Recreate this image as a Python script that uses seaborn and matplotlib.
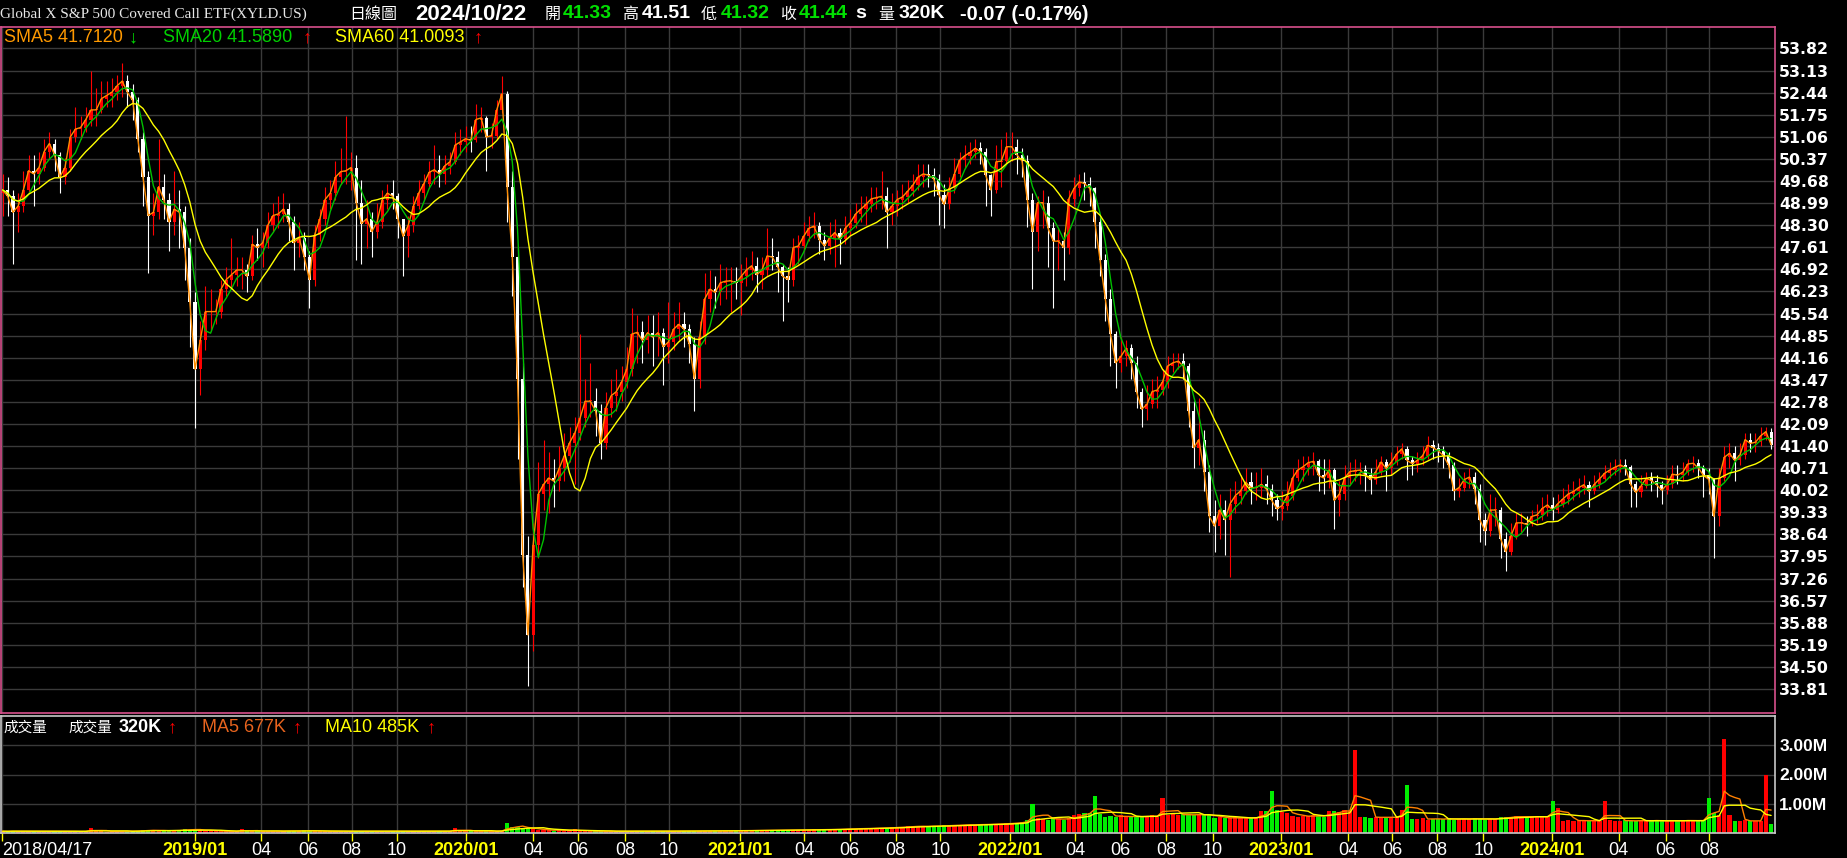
import numpy as np
import pandas as pd
import matplotlib
matplotlib.use("Agg")
import matplotlib.pyplot as plt
import seaborn as sns

# weekly candles (week 0 = week of 2018/04/16)
first_open = 49.3
close = [
    49.4, 49.2, 48.7, 48.9, 49.4, 50.0, 49.9, 50.1, 50.6, 50.85,
    50.5, 49.8, 50.1, 51.05, 51.3, 51.35, 51.6, 51.9, 51.9, 52.25,
    52.35, 52.45, 52.65, 52.8, 52.45, 52.2, 51.0, 49.8, 48.6, 48.7,
    49.5, 49.1, 48.4, 48.8, 48.7, 47.6, 45.9, 43.8, 44.7, 45.6,
    45.6, 45.6, 46.3, 46.6, 46.75, 46.9, 46.9, 46.7, 47.7, 47.6,
    47.75, 48.3, 48.6, 48.65, 48.8, 48.4, 47.75, 47.9, 47.3, 46.6,
    48.0, 48.5, 49.1, 49.3, 49.8, 49.97, 50.0, 50.1, 49.0, 48.35,
    48.5, 48.1, 48.4, 49.1, 49.3, 49.2, 48.5, 47.95, 48.3, 48.9,
    49.3, 49.6, 49.95, 50.03, 49.9, 50.15, 50.28, 50.8, 50.9, 51.0,
    50.95, 51.6, 51.65, 51.05, 51.1, 51.9, 52.4, 49.5, 47.3, 43.5,
    38.0, 35.5, 38.3, 39.9, 40.2, 40.4, 40.3, 40.7, 41.1, 41.5,
    41.8, 42.26, 42.8, 42.8, 42.5, 41.5, 42.6, 42.97, 43.1, 43.4,
    43.8, 44.9, 44.95, 44.7, 44.94, 44.8, 44.94, 44.5, 44.65, 45.05,
    45.2, 45.05, 44.6, 43.5, 44.8, 46.0, 46.3, 46.2, 46.5, 46.55,
    46.56, 46.5, 46.7, 46.9, 47.03, 46.75, 46.9, 47.34, 47.3, 47.0,
    46.7, 46.6, 47.6, 47.65, 47.95, 48.2, 48.27, 47.85, 47.65, 47.9,
    48.07, 47.86, 48.2, 48.38, 48.65, 48.8, 48.95, 49.12, 49.16, 49.2,
    48.7, 48.9, 49.1, 49.18, 49.36, 49.55, 49.8, 49.9, 49.86, 49.75,
    49.25, 48.95, 49.45, 49.9, 50.33, 50.47, 50.57, 50.7, 50.6, 49.86,
    49.4, 50.28, 50.3, 50.75, 50.75, 50.5, 50.3, 49.1, 48.1, 49.0,
    49.0, 48.2, 47.8, 47.8, 47.6, 49.13, 49.45, 49.65, 49.6, 49.45,
    48.4, 47.2, 46.0, 44.9, 44.0, 44.2, 44.45, 44.0, 43.1, 42.55,
    42.7, 43.1, 43.15, 43.4, 43.9, 44.0, 44.05, 43.9, 42.5, 41.35,
    41.6, 40.6, 39.2, 38.9, 39.4, 39.1, 39.6, 39.85, 40.0, 40.27,
    40.1, 40.1, 40.2, 40.05, 39.7, 39.44, 39.54, 39.85, 40.4, 40.65,
    40.75, 40.88, 40.92, 40.48, 40.4, 40.65, 39.7, 39.9, 40.4, 40.6,
    40.63, 40.65, 40.48, 40.35, 40.6, 40.9, 40.7, 40.9, 41.15, 41.31,
    40.95, 40.85, 40.95, 41.1, 41.42, 41.35, 41.25, 41.1, 40.8, 40.0,
    40.1, 40.35, 40.43, 40.05, 39.1, 38.75, 39.4, 39.4, 38.5, 38.1,
    38.6, 39.0, 39.0, 38.95, 39.2, 39.25, 39.45, 39.56, 39.4, 39.6,
    39.75, 39.9, 39.98, 40.1, 40.19, 39.98, 40.2, 40.37, 40.55, 40.65,
    40.74, 40.81, 40.73, 40.2, 39.95, 40.15, 40.39, 40.32, 40.19, 40.02,
    40.2, 40.52, 40.49, 40.58, 40.84, 40.86, 40.72, 40.48, 40.36, 39.2,
    40.4, 41.05, 41.17, 40.95, 41.12, 41.6, 41.48, 41.52, 41.72, 41.85,
    41.44,
]
high = [
    49.9, 49.8, 49.4, 49.3, 50.0, 50.5, 50.5, 50.6, 51.0, 51.2,
    51.0, 50.6, 50.4, 51.3, 52.0, 51.7, 52.0, 53.1, 52.6, 52.8,
    52.8, 52.9, 53.0, 53.35, 53.0, 52.7, 52.3, 51.2, 50.0, 49.3,
    51.0, 49.9, 49.3, 50.0, 49.4, 48.9, 47.9, 46.2, 45.3, 46.4,
    46.3, 46.0, 46.6, 47.0, 47.9, 47.3, 47.3, 47.1, 48.0, 48.2,
    48.1, 48.7, 49.0, 49.2, 49.3, 49.0, 48.6, 48.4, 48.1, 47.5,
    48.3, 48.8, 49.5, 49.7, 50.3, 50.7, 51.7, 50.6, 50.5, 49.7,
    49.1, 48.7, 49.0, 49.4, 49.6, 49.7, 49.3, 48.5, 48.6, 49.2,
    49.7, 49.9, 50.3, 50.8, 50.5, 50.5, 50.6, 51.2, 51.3, 51.4,
    51.4, 52.1, 52.0, 51.7, 51.5, 52.2, 52.95, 52.5, 50.0, 47.6,
    44.0, 38.6, 39.0, 40.9, 41.6, 41.2, 41.0, 41.4, 41.8, 42.0,
    42.3, 44.9, 43.5, 44.0, 43.2, 42.7, 43.1, 43.5, 43.8, 43.9,
    44.5, 45.7, 45.5, 45.3, 45.5, 45.5, 45.6, 45.1, 45.9, 45.6,
    45.9, 45.6, 45.2, 44.8, 45.3, 46.8, 46.9, 46.7, 47.1, 47.0,
    47.0, 47.0, 47.1, 47.3, 47.5, 47.3, 47.3, 48.2, 47.9, 47.5,
    47.1, 47.0, 47.9, 48.0, 48.4, 48.6, 48.7, 48.4, 48.1, 48.4,
    48.5, 48.2, 48.6, 48.8, 49.0, 49.2, 49.2, 49.5, 49.5, 50.0,
    49.5, 49.3, 49.4, 49.6, 49.7, 49.9, 50.2, 50.2, 50.2, 50.1,
    49.9, 49.6, 49.8, 50.4, 50.6, 50.8, 50.9, 51.0, 50.9, 50.7,
    49.9, 50.8, 51.0, 51.2, 51.2, 51.0, 50.7, 50.5, 49.3, 49.2,
    49.4, 49.2, 48.4, 48.2, 48.1, 49.4, 49.8, 49.9, 49.95, 49.8,
    49.5, 48.6, 47.4, 46.3, 45.0, 44.8, 44.7, 44.6, 44.2, 43.2,
    43.3, 43.5, 43.6, 43.8, 44.2, 44.3, 44.3, 44.3, 44.0, 42.8,
    42.9, 41.9, 40.8, 39.7, 39.9, 39.7, 40.1, 40.3, 40.5, 40.7,
    40.6, 40.6, 40.7, 40.5, 40.2, 39.9, 40.0, 40.3, 40.7, 41.0,
    41.1, 41.1, 41.2, 41.0, 41.0, 41.0, 40.7, 40.3, 40.8, 40.9,
    41.0, 40.9, 40.8, 40.7, 41.0, 41.1, 41.0, 41.2, 41.4, 41.5,
    41.4, 41.1, 41.2, 41.4, 41.7, 41.6, 41.5, 41.4, 41.2, 40.9,
    40.4, 40.6, 40.7, 40.6, 40.2, 39.3, 39.9, 39.8, 39.5, 38.7,
    39.0, 39.3, 39.3, 39.2, 39.4, 39.6, 39.8, 39.9, 39.8, 39.9,
    40.1, 40.2, 40.3, 40.4, 40.5, 40.3, 40.5, 40.6, 40.8, 40.9,
    41.0, 41.0, 41.0, 40.8, 40.3, 40.5, 40.6, 40.6, 40.5, 40.3,
    40.5, 40.8, 40.8, 40.9, 41.0, 41.1, 41.0, 40.8, 40.7, 40.4,
    40.7, 41.4, 41.5, 41.4, 41.5, 41.8, 41.8, 41.8, 42.0, 42.0,
    41.95,
]
low = [
    48.6, 48.6, 47.1, 48.1, 48.7, 49.3, 48.9, 49.6, 50.0, 50.4,
    50.0, 49.3, 49.6, 50.0, 50.9, 51.0, 51.2, 51.4, 51.4, 51.8,
    52.0, 52.0, 52.2, 52.3, 52.0, 51.6, 50.6, 48.9, 46.8, 48.0,
    48.5, 48.5, 47.5, 48.0, 47.6, 46.6, 44.5, 41.95, 43.0, 44.4,
    45.0, 45.2, 45.4, 46.1, 46.3, 46.4, 46.3, 46.2, 46.6, 47.2,
    47.0, 47.6, 48.1, 48.2, 48.4, 47.8, 46.9, 47.3, 46.9, 45.7,
    46.4, 47.8, 48.3, 48.8, 49.1, 49.6, 49.6, 49.4, 47.2, 47.1,
    47.6, 47.3, 47.9, 48.2, 48.8, 48.8, 47.9, 46.7, 47.3, 48.1,
    48.8, 49.1, 49.5, 49.6, 49.5, 49.6, 49.9, 50.2, 50.5, 50.6,
    50.6, 50.9, 51.2, 50.0, 50.7, 51.0, 51.8, 48.4, 46.1, 41.0,
    37.0, 33.9, 35.0, 37.9, 39.4, 39.3, 39.5, 40.0, 40.3, 40.9,
    40.2, 41.6, 42.0, 42.3, 41.7, 41.0, 41.3, 42.3, 42.5, 42.8,
    43.2, 43.6, 44.0, 44.0, 44.3, 43.9, 44.2, 43.3, 44.0, 44.4,
    44.7, 44.5, 44.0, 42.5, 43.2, 44.6, 45.6, 45.7, 45.8, 46.0,
    45.6, 46.0, 45.5, 46.4, 46.6, 46.2, 46.3, 46.7, 46.9, 46.2,
    45.3, 45.9, 46.4, 47.1, 47.5, 47.8, 47.9, 47.4, 47.2, 47.4,
    47.0, 47.1, 47.7, 48.0, 48.2, 48.4, 48.3, 48.7, 48.8, 48.8,
    47.6, 48.3, 48.6, 48.8, 49.0, 49.2, 49.4, 49.5, 49.5, 49.2,
    48.3, 48.2, 48.8, 49.3, 49.8, 50.1, 50.2, 50.4, 50.2, 48.9,
    48.6, 49.3, 49.5, 50.2, 50.3, 49.9, 49.8, 48.25, 46.3, 47.5,
    48.2, 47.0, 45.7, 46.9, 46.6, 47.4, 48.9, 49.2, 49.1, 48.9,
    47.6, 46.7, 45.3, 43.9, 43.2, 43.7, 43.9, 43.5, 42.6, 42.0,
    42.2, 42.6, 42.6, 43.0, 43.2, 43.7, 43.8, 43.5, 42.0, 40.7,
    40.8, 40.0, 38.7, 38.1, 38.5, 38.0, 37.3, 39.3, 39.6, 39.9,
    39.6, 39.7, 39.8, 39.6, 39.2, 39.1, 39.1, 39.4, 39.7, 40.3,
    40.3, 40.5, 40.5, 40.0, 39.9, 40.1, 38.8, 39.2, 39.7, 40.2,
    40.3, 40.2, 40.0, 39.9, 40.2, 40.5, 40.0, 40.5, 40.8, 41.0,
    40.35, 40.5, 40.6, 40.8, 41.0, 41.0, 40.9, 40.7, 40.4, 39.7,
    39.8, 40.0, 40.1, 39.6, 38.4, 38.3, 38.6, 38.9, 37.9, 37.5,
    38.0, 38.5, 38.7, 38.6, 38.9, 39.0, 39.1, 39.2, 39.1, 39.3,
    39.5, 39.6, 39.7, 39.8, 39.9, 39.5, 39.9, 40.1, 40.3, 40.4,
    40.5, 40.6, 40.5, 39.5, 39.5, 39.8, 40.1, 40.0, 39.8, 39.6,
    39.9, 40.1, 40.2, 40.3, 40.5, 40.6, 40.4, 39.8, 39.9, 37.9,
    38.9, 40.3, 40.7, 40.3, 40.8, 41.0, 41.2, 41.2, 41.4, 41.6,
    41.32,
]
# volume in thousands of shares
volume_k = [
    60, 55, 70, 60, 50, 55, 65, 60, 50, 55,
    60, 70, 55, 60, 50, 55, 60, 170, 60, 55,
    50, 60, 65, 55, 60, 70, 80, 90, 110, 85,
    70, 80, 75, 90, 85, 150, 110, 120, 90, 80,
    70, 65, 60, 60, 55, 60, 130, 60, 65, 70,
    60, 55, 60, 70, 80, 65, 60, 70, 90, 85,
    60, 55, 60, 65, 60, 55, 60, 65, 70, 60,
    55, 60, 65, 70, 60, 55, 60, 55, 60, 60,
    65, 70, 60, 55, 60, 70, 65, 170, 70, 65,
    60, 70, 60, 65, 60, 70, 80, 340, 220, 200,
    180, 160, 130, 110, 100, 90, 80, 130, 80, 70,
    120, 70, 65, 60, 60, 65, 70, 60, 55, 60,
    65, 60, 70, 65, 60, 55, 60, 70, 65, 60,
    60, 65, 70, 75, 80, 70, 65, 70, 75, 80,
    70, 80, 85, 90, 80, 85, 90, 95, 100, 90,
    95, 100, 110, 100, 105, 110, 120, 115, 110, 120,
    130, 130, 140, 150, 140, 160, 150, 170, 160, 180,
    175, 190, 200, 210, 230, 220, 240, 230, 220, 250,
    240, 260, 250, 280, 270, 280, 290, 270, 300, 290,
    310, 300, 320, 330, 340, 350, 380, 450, 1000, 500,
    480, 460, 520, 470, 450, 500, 620, 650, 700, 680,
    1250, 650, 560, 580, 550, 600, 540, 560, 570, 550,
    580, 600, 560, 1200, 620, 640, 600, 650, 620, 610,
    630, 640, 600, 520, 540, 510, 500, 530, 510, 520,
    500, 540, 740, 760, 1450, 780, 720, 700, 580, 560,
    590, 570, 600, 580, 560, 740, 760, 720, 780, 750,
    2850, 560, 540, 520, 550, 530, 540, 520, 560, 800,
    1650, 480, 470, 500, 460, 490, 480, 470, 500, 460,
    480, 490, 470, 500, 480, 460, 490, 470, 560, 540,
    550, 580, 560, 540, 550, 570, 560, 540, 1100, 850,
    420, 430, 410, 440, 420, 400, 430, 420, 1100, 440,
    420, 410, 430, 420, 400, 440, 420, 410, 430, 420,
    400, 430, 410, 420, 440, 420, 410, 430, 1200, 700,
    620, 3200, 620, 420, 400, 430, 410, 420, 400, 2000,
    320,
]

price_ticks = [33.81, 34.50, 35.19, 35.88, 36.57, 37.26, 37.95, 38.64, 39.33, 40.02,
               40.71, 41.40, 42.09, 42.78, 43.47, 44.16, 44.85, 45.54, 46.23, 46.92,
               47.61, 48.30, 48.99, 49.68, 50.37, 51.06, 51.75, 52.44, 53.13, 53.82]
volume_ticks = [1e6, 2e6, 3e6]
volume_tick_labels = ["1.00M", "2.00M", "3.00M"]

tick_dates = ["2018-04-17", "2019-01-02", "2019-04-01", "2019-06-03", "2019-08-01", "2019-10-01",
              "2020-01-02", "2020-04-01", "2020-06-01", "2020-08-03", "2020-10-01",
              "2021-01-04", "2021-04-01", "2021-06-01", "2021-08-02", "2021-10-01",
              "2022-01-03", "2022-04-01", "2022-06-01", "2022-08-01", "2022-10-03",
              "2023-01-03", "2023-04-03", "2023-06-01", "2023-08-01", "2023-10-02",
              "2024-01-02", "2024-04-01", "2024-06-03", "2024-08-01"]
tick_labels = ["2018/04/17", "2019/01", "04", "06", "08", "10",
               "2020/01", "04", "06", "08", "10",
               "2021/01", "04", "06", "08", "10",
               "2022/01", "04", "06", "08", "10",
               "2023/01", "04", "06", "08", "10",
               "2024/01", "04", "06", "08"]

sns.set_theme(style="dark", rc={"axes.facecolor": "black", "figure.facecolor": "black"})
plt.rcParams["font.family"] = ["Liberation Sans", "Noto Sans CJK TC", "DejaVu Sans"]

W, H = 1847, 858
fig = plt.figure(figsize=(W / 100, H / 100), dpi=100)


def fx(px):
    return px / W


def fy(py):
    return 1 - py / H


ax = fig.add_axes([fx(1), fy(713), fx(1775) - fx(1), fy(27) - fy(713)])
axv = fig.add_axes([fx(1), fy(833), fx(1775) - fx(1), fy(716) - fy(833)], sharex=ax)

df = pd.DataFrame({"close": close, "high": high, "low": low,
                   "volume": np.array(volume_k) * 1000.0})
df["open"] = [first_open] + close[:-1]
df["x"] = np.arange(len(df)) + 0.3
up = (df["close"] >= df["open"]).values

# candles: red when close >= open, white otherwise
candle_colors = np.where(up, "#ff0000", "#ffffff")
ax.vlines(df["x"], df["low"], df["high"], colors=candle_colors, linewidth=0.8, zorder=2)
body = (df["close"] - df["open"]).abs().clip(lower=0.03)
ax.bar(df["x"], body, bottom=df[["open", "close"]].min(axis=1), width=0.6,
       color=candle_colors, linewidth=0, zorder=2)

# moving averages (5 / 20 / 60 days ~ 1 / 4 / 12 weeks)
for window, color in [(1, "#ff8c00"), (4, "#00c000"), (12, "#ffff00")]:
    sma = df["close"].rolling(window, min_periods=1).mean()
    sns.lineplot(x=df["x"].values, y=sma.values, color=color, linewidth=1.0,
                 estimator=None, sort=False, ax=ax, zorder=3)

ax.set_xlim(0, 341.05)
ax.set_ylim(33.06, 54.49)
ax.set_yticks(price_ticks)
ax.set_yticklabels([f"{v:.2f}" for v in price_ticks])
ax.yaxis.tick_right()
ax.tick_params(axis="y", length=0, pad=3, labelcolor="white", labelsize=11.3)
for lab in ax.get_yticklabels():
    lab.set_fontweight("bold")
    lab.set_family("DejaVu Sans")
ax.tick_params(axis="x", length=0, labelbottom=False)
ax.grid(True, color="#3a3a3a", linewidth=1)
ax.set_axisbelow(True)
for sp in ax.spines.values():
    sp.set_color("#d8508c")
    sp.set_linewidth(1.2)
ax.set_xlabel("")
ax.set_ylabel("")

# volume panel
vol_colors = np.where(up, "#ff0000", "#00ee00")
axv.bar(df["x"], df["volume"], width=0.8, color=vol_colors, linewidth=0, zorder=2)
for window, color in [(4, "#ff8000"), (8, "#ffff00")]:
    ma = df["volume"].rolling(window, min_periods=1).mean()
    sns.lineplot(x=df["x"].values, y=ma.values, color=color, linewidth=1.0,
                 estimator=None, sort=False, ax=axv, zorder=3)
axv.set_ylim(0, 4.0e6)
axv.set_yticks(volume_ticks)
axv.set_yticklabels(volume_tick_labels)
axv.yaxis.tick_right()
axv.tick_params(axis="y", length=0, pad=3, labelcolor="white", labelsize=12.5)
for lab in axv.get_yticklabels():
    lab.set_fontweight("bold")

origin = pd.Timestamp("2018-04-16")
tick_x = (pd.to_datetime(tick_dates) - origin).days / 7
axv.set_xticks(tick_x)
axv.set_xticklabels(tick_labels)
axv.tick_params(axis="x", direction="out", length=6, width=1, color="#ffff00",
                pad=0.5, labelsize=13, bottom=True)
for i, lab in enumerate(axv.get_xticklabels()):
    if i == 0:
        lab.set_color("white")
        lab.set_ha("left")
    elif "/" in lab.get_text():
        lab.set_color("#ffff00")
        lab.set_fontweight("bold")
    else:
        lab.set_color("white")
axv.xaxis.get_major_ticks()[0].tick1line.set_color("white")
axv.grid(True, color="#3a3a3a", linewidth=1)
axv.set_axisbelow(True)
for sp in axv.spines.values():
    sp.set_color("#c8c8c8")
    sp.set_linewidth(1.2)
axv.set_xlabel("")
axv.set_ylabel("")

# header line
cjk = ["Noto Sans CJK TC", "DejaVu Sans"]
y0 = fy(14)
fig.text(fx(0), y0, "Global X S&P 500 Covered Call ETF(XYLD.US)", family="Liberation Serif",
         size=11, color="#e6e6e6", va="center")
header = [
    (349, "日線圖", "white", 0),
    (415, "2024/10/22", "white", 16),
    (545, "開", "white", 0),
    (563, "41.33", "#00e000", 14),
    (622, "高", "white", 0),
    (642, "41.51", "white", 14),
    (701, "低", "white", 0),
    (721, "41.32", "#00e000", 14),
    (780, "收", "white", 0),
    (799, "41.44", "#00e000", 14),
    (855, "s", "white", 14),
    (878, "量", "white", 0),
    (899, "320K", "white", 14),
    (960, "-0.07 (-0.17%)", "white", 14.5),
]
for x, txt, color, size in header:
    if size:
        fig.text(fx(x), y0, txt, color=color, size=size, weight="bold", va="center")
    else:
        fig.text(fx(x), y0, txt, color=color, size=11.5, family=cjk, va="center")

# moving-average legend
y1 = fy(38)
legend = [
    (4, "SMA5 41.7120", "#ff9900"), (129, "↓", "#00e000"),
    (163, "SMA20 41.5890", "#00d000"), (303, "↑", "#ff0000"),
    (335, "SMA60 41.0093", "#ffff00"), (474, "↑", "#ff0000"),
]
for x, txt, color in legend:
    fig.text(fx(x), y1, txt, color=color, size=13, va="center",
             weight="bold" if txt in "↑↓" else "normal")

# volume legend
y2 = fy(728)
fig.text(fx(3), y2, "成交量", color="white", size=10.5, family=cjk, va="center")
fig.text(fx(68), y2, "成交量", color="white", size=10.5, family=cjk, va="center")
vlegend = [
    (119, "320K", "white"), (168, "↑", "#ff0000"),
    (202, "MA5 677K", "#e8641e"), (293, "↑", "#ff0000"),
    (325, "MA10 485K", "#ffff00"), (427, "↑", "#ff0000"),
]
for x, txt, color in vlegend:
    fig.text(fx(x), y2, txt, color=color, size=13, va="center",
             weight="bold" if txt in ("320K", "↑") else "normal")

fig.savefig("out.png", dpi=100, facecolor="black")
